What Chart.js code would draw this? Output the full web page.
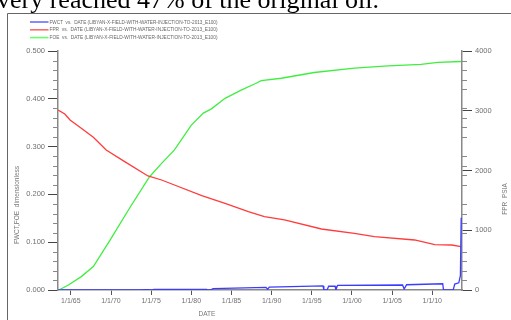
<!DOCTYPE html>
<html><head><meta charset="utf-8">
<style>html,body{margin:0;padding:0;background:#fff;}#wrap{position:relative;width:511px;height:320px;}canvas{display:block;}</style>
<script src="https://cdn.jsdelivr.net/npm/chart.js@4/dist/chart.umd.min.js"></script>
</head><body><div id="wrap"><canvas id="c" width="511" height="320"></canvas></div>
<script>
// ---- data ----
const seriesLabels = [
  'FWCT  vs.  DATE (LIBYAN-X-FIELD-WITH-WATER-INJECTION-TO-2013_E100)',
  'FPR  vs.  DATE (LIBYAN-X-FIELD-WITH-WATER-INJECTION-TO-2013_E100)',
  'FOE  vs.  DATE (LIBYAN-X-FIELD-WITH-WATER-INJECTION-TO-2013_E100)'
];
const fwctYears  = [1963.45, 1973.6, 1974.2, 1974.6, 1975.0, 1975.4, 1981.9, 1982.1, 1982.4, 1982.7, 1989.3, 1989.5, 1989.7, 1996.4, 1996.5, 1996.9, 1997.1, 1997.9, 1998.0, 1998.2, 2006.3, 2006.5, 2006.8, 2011.3, 2011.4, 2012.6, 2012.8, 2013.3, 2013.5, 2013.6, 2013.65];
const fwctValues = [0, 0, 0.0008, 0.0008, 0, 0.001, 0.0015, 0, 0, 0.0028, 0.0056, 0.0015, 0.006, 0.0085, 0, 0, 0.0078, 0.0078, 0, 0.0098, 0.0105, 0.002, 0.011, 0.013, 0, 0, 0.0125, 0.015, 0.03, 0.151, 0.151];
const fprYears   = [1963.42, 1964.25, 1964.9, 1966.3, 1967.8, 1969.4, 1971.7, 1974.6, 1976.3, 1977.9, 1981.3, 1984.2, 1987.1, 1989.1, 1991.6, 1996.2, 2000.3, 2002.8, 2007.8, 2010.3, 2012.4, 2013.6];
const fprValues  = [3013, 2946, 2845, 2706, 2555, 2343, 2148, 1908, 1841, 1757, 1579, 1450, 1311, 1227, 1172, 1021, 948, 892, 837, 759, 753, 725];
const foeYears   = [1963.5, 1964.7, 1966.3, 1967.8, 1969.9, 1972.3, 1974.8, 1976.3, 1977.9, 1980.0, 1981.5, 1982.5, 1984.2, 1986.2, 1988.0, 1988.7, 1991.2, 1995.3, 2000.3, 2004.5, 2008.6, 2010.7, 2013.6];
const foeValues  = [0, 0.0105, 0.028, 0.049, 0.105, 0.171, 0.237, 0.265, 0.293, 0.345, 0.370, 0.379, 0.401, 0.418, 0.432, 0.438, 0.443, 0.455, 0.464, 0.469, 0.472, 0.476, 0.478];
const xTickYears = [1965, 1970, 1975, 1980, 1985, 1990, 1995, 2000, 2005, 2010];
const leftTicks  = [0, 0.1, 0.2, 0.3, 0.4, 0.5];
const rightTicks = [0, 1000, 2000, 3000, 4000];
const seriesColors = ['#3c3cff', '#ff3c3c', '#40ee40'];
const legendColors = ['#6a6aff', '#ff6a6a', '#6aff6a'];

const toXY = (xs, ys) => xs.map((x, i) => ({x: x, y: ys[i]}));

const extras = {
  id: 'extras',
  afterDraw(chart) {
    const ctx = chart.ctx;
    const ys = chart.scales.y, yr = chart.scales.y1;
    ctx.save();
    // document text cut off at top
    ctx.fillStyle = '#000';
    ctx.font = '26px "Liberation Serif"';
    ctx.textBaseline = 'alphabetic';
    ctx.textAlign = 'left';
    ctx.fillText('very reached 47% of the original oil.', -3, 7.5);
    // frame
    ctx.strokeStyle = '#666';
    ctx.lineWidth = 1;
    ctx.beginPath();
    ctx.moveTo(7.5, 320); ctx.lineTo(7.5, 13.5); ctx.lineTo(511, 13.5);
    ctx.stroke();
    // legend
    chart.data.datasets.forEach((ds, i) => {
      const y = 22 + i * 7.8;
      ctx.strokeStyle = legendColors[i];
      ctx.lineWidth = 1.6;
      ctx.beginPath(); ctx.moveTo(30, y); ctx.lineTo(48.5, y); ctx.stroke();
      ctx.fillStyle = '#666';
      ctx.font = '5px Arial, "Liberation Sans"';
      ctx.textBaseline = 'middle';
      ctx.fillText(ds.label, 49.5, y + 0.3, 168);
    });
    // minor ticks
    ctx.strokeStyle = '#888';
    ctx.lineWidth = 1;
    ctx.beginPath();
    for (let k = 0; k <= 25; k++) {
      if (k % 5 === 0) continue;
      const py = Math.round(ys.getPixelForValue(k * 0.02)) + 0.5;
      ctx.moveTo(ys.right - 5, py); ctx.lineTo(ys.right, py);
      const pr = Math.round(yr.getPixelForValue(k * 160)) + 0.5;
      ctx.moveTo(yr.left, pr); ctx.lineTo(yr.left + 5, pr);
    }
    ctx.stroke();
    // axis titles
    ctx.fillStyle = '#777';
    ctx.font = '6.5px Arial, "Liberation Sans"';
    ctx.textAlign = 'center';
    ctx.textBaseline = 'middle';
    ctx.fillText('DATE', 207, 314);
    ctx.save(); ctx.translate(17, 205); ctx.rotate(-Math.PI / 2);
    ctx.fillText('FWCT,FOE  dimensionless', 0, 0); ctx.restore();
    ctx.save(); ctx.translate(505, 199); ctx.rotate(-Math.PI / 2);
    ctx.fillText('FPR  PSIA', 0, 0); ctx.restore();
    ctx.restore();
  }
};

new Chart(document.getElementById('c'), {
  type: 'line',
  data: {
    datasets: [
      {label: seriesLabels[0], data: toXY(fwctYears, fwctValues), yAxisID: 'y', borderColor: seriesColors[0]},
      {label: seriesLabels[1], data: toXY(fprYears, fprValues), yAxisID: 'y1', borderColor: seriesColors[1]},
      {label: seriesLabels[2], data: toXY(foeYears, foeValues), yAxisID: 'y', borderColor: seriesColors[2]}
    ]
  },
  options: {
    responsive: false,
    animation: false,
    devicePixelRatio: 1,
    layout: {padding: {top: 51, left: 0, right: 0, bottom: 0}},
    elements: {point: {radius: 0}, line: {borderWidth: 1.3, tension: 0}},
    plugins: {legend: {display: false}, tooltip: {enabled: false}},
    scales: {
      x: {
        type: 'linear', min: 1963.4, max: 2013.7,
        afterBuildTicks: s => { s.ticks = xTickYears.map(v => ({value: v})); },
        afterFit: s => { s.height = 30; },
        ticks: {
          autoSkip: false, maxRotation: 0, padding: 2, color: '#707070',
          font: {size: 7, family: 'Arial, "Liberation Sans"'},
          callback: v => '1/1/' + String(v % 100).padStart(2, '0')
        },
        grid: {drawOnChartArea: false, drawTicks: true, tickLength: 5, color: '#555', lineWidth: 1},
        border: {color: '#888', width: 1.5}
      },
      y: {
        position: 'left', min: 0, max: 0.5,
        afterBuildTicks: s => { s.ticks = leftTicks.map(v => ({value: v})); },
        afterFit: s => { s.width = 58; },
        ticks: {
          padding: 3, color: '#707070',
          font: {size: 7.5, family: 'Arial, "Liberation Sans"'},
          callback: v => Number(v).toFixed(3)
        },
        grid: {drawOnChartArea: false, drawTicks: true, tickLength: 10, color: '#444', lineWidth: 1},
        border: {color: '#888', width: 1.5}
      },
      y1: {
        position: 'right', min: 0, max: 4000,
        afterBuildTicks: s => { s.ticks = rightTicks.map(v => ({value: v})); },
        afterFit: s => { s.width = 49; },
        ticks: {
          padding: 3, color: '#707070',
          font: {size: 7.5, family: 'Arial, "Liberation Sans"'},
          callback: v => String(v)
        },
        grid: {drawOnChartArea: false, drawTicks: true, tickLength: 10, color: '#444', lineWidth: 1},
        border: {color: '#888', width: 1.5}
      }
    }
  },
  plugins: [extras]
});
</script>
</body></html>
